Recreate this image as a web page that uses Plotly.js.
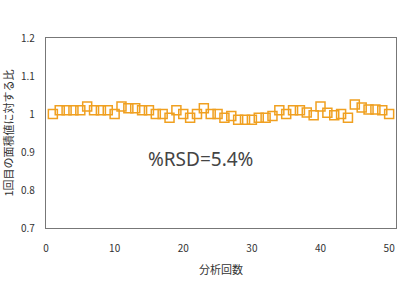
<!DOCTYPE html>
<html><head><meta charset="utf-8">
<script src="https://cdn.plot.ly/plotly-3.0.1.min.js"></script>
<style>html,body{margin:0;padding:0;background:#fff}#c{width:400px;height:300px}</style>
</head><body><div id="c"></div>
<script>
const runs = [1,2,3,4,5,6,7,8,9,10,11,12,13,14,15,16,17,18,19,20,21,22,23,24,25,26,27,28,29,30,31,32,33,34,35,36,37,38,39,40,41,42,43,44,45,46,47,48,49,50];
const ratio = [1.0,1.01,1.01,1.01,1.01,1.02,1.01,1.01,1.01,1.0,1.02,1.015,1.015,1.01,1.01,1.0,1.0,0.99,1.01,1.0,0.99,1.0,1.015,1.0,1.0,0.99,0.995,0.985,0.985,0.985,0.99,0.99,0.995,1.01,1.0,1.01,1.01,1.004,0.997,1.02,1.003,0.997,1.0,0.99,1.025,1.017,1.012,1.012,1.01,1.0];
const yTicks = [0.7,0.8,0.9,1,1.1,1.2];
const xTicks = [0,10,20,30,40,50];
const font = "'Noto Sans CJK JP', 'Noto Sans', sans-serif";
Plotly.newPlot('c', [{
  x: runs, y: ratio, type: 'scatter', mode: 'markers',
  marker: {symbol: 'square-open', size: 9, color: '#f0a020', line: {width: 1.5, color: '#f0a020'}}
}], {
  width: 400, height: 300,
  margin: {l: 46, r: 4, t: 38, b: 72},
  paper_bgcolor: '#fff', plot_bgcolor: '#fff',
  showlegend: false,
  font: {family: font, size: 10, color: '#333'},
  xaxis: {range: [0, 51], tickvals: xTicks, ticktext: xTicks.map(String), showgrid: false, zeroline: false,
    showline: true, linecolor: '#777', linewidth: 1.2, mirror: true,
    ticks: 'outside', ticklen: 11, tickcolor: 'rgba(0,0,0,0)',
    tickfont: {size: 10, color: '#333'},
    title: {text: '分析回数', font: {size: 11, color: '#333'}, standoff: 12}},
  yaxis: {range: [0.7, 1.2], tickvals: yTicks, ticktext: yTicks.map(String), showgrid: false, zeroline: false,
    showline: true, linecolor: '#777', linewidth: 1.2, mirror: true,
    ticks: 'outside', ticklen: 8, tickcolor: 'rgba(0,0,0,0)',
    tickfont: {size: 10, color: '#333'},
    title: {text: '1回目の面積値に対する比', font: {size: 11, color: '#333'}, standoff: 6}},
  annotations: [{text: '%RSD=5.4%', xref: 'paper', yref: 'paper', x: 0.44, y: 0.365, showarrow: false,
    font: {size: 19, color: '#444', family: "'Noto Sans', sans-serif"}}]
}, {displayModeBar: false, staticPlot: true});
</script></body></html>
